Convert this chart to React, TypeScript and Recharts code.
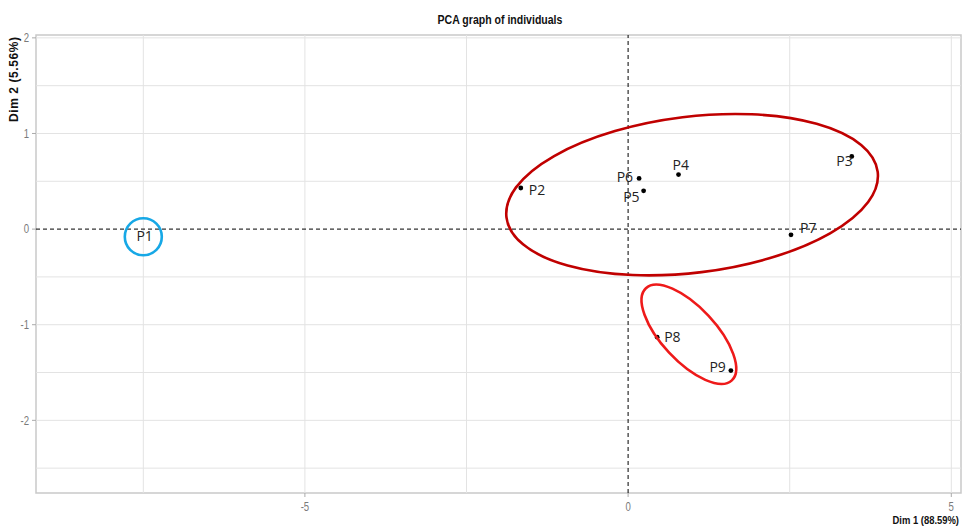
import React from 'react';
import {
    ScatterChart,
    Scatter,
    XAxis,
    YAxis,
    ReferenceLine,
    ReferenceDot,
    ReferenceArea,
    Label,
} from 'recharts';

// individuals (Dim 1, Dim 2)
const names = ['P1', 'P2', 'P3', 'P4', 'P5', 'P6', 'P7', 'P8', 'P9'];
const dim1 = [-7.48, -1.66, 3.46, 0.78, 0.24, 0.17, 2.52, 0.45, 1.59];
const dim2 = [-0.07, 0.43, 0.76, 0.57, 0.40, 0.53, -0.06, -1.13, -1.48];

const xTicks = [-5, 0, 5];
const yTicks = [-2, -1, 0, 1, 2];
const xGrid = [-7.5, -5, -2.5, 2.5, 5];
const yGrid = [-2.5, -2, -1.5, -1, -0.5, 0.5, 1, 1.5, 2];
const X_DOMAIN: [number, number] = [-9.16, 5.15];
const Y_DOMAIN: [number, number] = [-2.76, 2.03];

// hand-drawn groupings: centre in data units
const groupNames = ['cluster A', 'cluster B', 'outlier'];
const groupX = [0.99, 0.94, -7.5];
const groupY = [0.36, -1.1, -0.08];

// label placement relative to the dot (px): dx, dy, anchor
const LABEL_POS: Record<string, [number, number, string]> = {
    P1: [0, 5, 'middle'],
    P2: [8, 7, 'start'],
    P3: [1, 10, 'end'],
    P4: [-6, -5, 'start'],
    P5: [-4, 11, 'end'],
    P6: [-6, 4, 'end'],
    P7: [9, -2, 'start'],
    P8: [7, 5, 'start'],
    P9: [-5, 1, 'end'],
};

// ellipse look (px)
const GROUP_STYLE: Record<string, { rx: number; ry: number; angle: number; color: string }> = {
    'cluster A': { rx: 187, ry: 78, angle: -7, color: '#c00000' },
    'cluster B': { rx: 63, ry: 27, angle: 47, color: '#ee1a1a' },
    outlier: { rx: 18.5, ry: 18.5, angle: 0, color: '#17a8e6' },
};

const points = names.map((n, i) => ({ name: n, x: dim1[i], y: dim2[i] }));

const NARROW = '"Liberation Sans Narrow", "Arial Narrow", "Liberation Sans", Arial, sans-serif';
const LABEL_FONT = '"Open Sans", "Liberation Sans", sans-serif';

const PointShape = (props: any) => {
    const { cx, cy, payload } = props;
    const [dx, dy, anchor] = LABEL_POS[payload.name] || [6, 4, 'start'];
    return (
        <g>
            {payload.name !== 'P1' && <circle cx={cx} cy={cy} r={2.4} fill="#000" />}
            <text
                x={cx + dx}
                y={cy + dy}
                textAnchor={anchor as any}
                fontSize={14}
                fontFamily={LABEL_FONT}
                fill="#222"
            >
                {payload.name}
            </text>
        </g>
    );
};

const makeEllipse = (group: string) => (props: any) => {
    const s = GROUP_STYLE[group];
    return (
        <ellipse
            cx={props.cx}
            cy={props.cy}
            rx={s.rx}
            ry={s.ry}
            transform={`rotate(${s.angle} ${props.cx} ${props.cy})`}
            fill="none"
            stroke={s.color}
            strokeWidth={2.6}
        />
    );
};

// narrow-looking tick labels (no condensed font installed)
const NarrowTick = (props: any) => {
    const { x, y, payload, textAnchor, verticalAnchor } = props;
    return (
        <text
            x={x}
            y={y}
            dy={verticalAnchor === 'start' ? '0.71em' : '0.355em'}
            textAnchor={textAnchor}
            fontSize={12}
            fontFamily={NARROW}
            fill="#7a7a7a"
            transform={`translate(${x} 0) scale(0.8 1) translate(${-x} 0)`}
        >
            {payload.value}
        </text>
    );
};

export default function App() {
    return (
        <div style={{ position: 'fixed', left: 0, top: 0, width: 965, height: 530, background: '#fff' }}>
            <div
                style={{
                    position: 'absolute',
                    left: 0,
                    width: 1000,
                    top: 12,
                    textAlign: 'center',
                    fontFamily: NARROW,
                    fontWeight: 'bold',
                    fontSize: 13,
                    color: '#111',
                    transform: 'scaleX(0.81)',
                    transformOrigin: '500px 0',
                }}
            >
                PCA graph of individuals
            </div>
            <ScatterChart width={965} height={530} margin={{ top: 35, right: 4, left: 0, bottom: 0 }}>
                <XAxis
                    type="number"
                    dataKey="x"
                    domain={X_DOMAIN}
                    ticks={xTicks}
                    allowDataOverflow
                    height={37}
                    tickSize={4}
                    tickMargin={5}
                    axisLine={false}
                    tickLine={{ stroke: '#aaa' }}
                    tick={<NarrowTick />}
                >
                    <Label
                        content={() => (
                            <text
                                x={0}
                                y={0}
                                transform="translate(959 524) scale(0.82 1)"
                                textAnchor="end"
                                fontSize={11.5}
                                fontWeight="bold"
                                fontFamily={NARROW}
                                fill="#111"
                            >
                                Dim 1 (88.59%)
                            </text>
                        )}
                    />
                </XAxis>
                <YAxis
                    type="number"
                    dataKey="y"
                    domain={Y_DOMAIN}
                    ticks={yTicks}
                    allowDataOverflow
                    width={36}
                    tickSize={4}
                    tickMargin={3}
                    axisLine={false}
                    tickLine={{ stroke: '#aaa' }}
                    tick={<NarrowTick />}
                >
                    <Label
                        content={() => (
                            <text
                                x={0}
                                y={0}
                                transform="translate(18 37) rotate(-90)"
                                textAnchor="end"
                                fontSize={12}
                                fontWeight="bold"
                                fontFamily={NARROW}
                                fill="#111"
                                textLength={85}
                                lengthAdjust="spacing"
                            >
                                Dim 2 (5.56%)
                            </text>
                        )}
                    />
                </YAxis>
                {xGrid.map((v) => (
                    <ReferenceLine key={'gx' + v} x={v} stroke="#e3e3e3" strokeWidth={1} />
                ))}
                {yGrid.map((v) => (
                    <ReferenceLine key={'gy' + v} y={v} stroke="#e3e3e3" strokeWidth={1} />
                ))}
                <ReferenceArea
                    x1={X_DOMAIN[0]}
                    x2={X_DOMAIN[1]}
                    y1={Y_DOMAIN[0]}
                    y2={Y_DOMAIN[1]}
                    fill="none"
                    fillOpacity={0}
                    stroke="#c9c9c9"
                    strokeWidth={1.5}
                />
                <ReferenceLine x={0} stroke="#000" strokeDasharray="4 3" />
                <ReferenceLine y={0} stroke="#000" strokeDasharray="4 3" />
                <Scatter data={points} isAnimationActive={false} shape={PointShape} />
                {groupNames.map((g, i) => (
                    <ReferenceDot key={g} x={groupX[i]} y={groupY[i]} r={1} shape={makeEllipse(g)} />
                ))}
            </ScatterChart>
        </div>
    );
}
